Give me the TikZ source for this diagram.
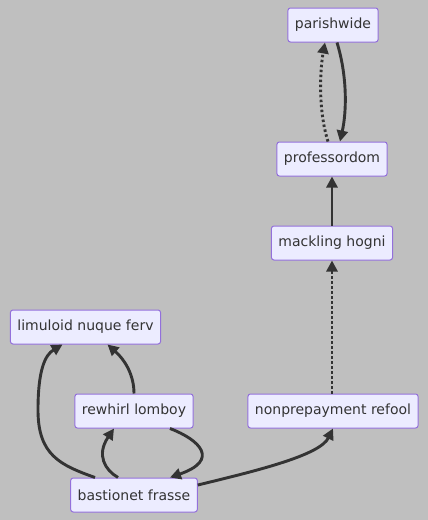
\documentclass[tikz,border=0pt]{standalone}
\usepackage{fontspec}
\setmainfont{DejaVu Sans}
\usepackage{tikz}
\usetikzlibrary{arrows.meta,calc}
\definecolor{Canvas}{RGB}{191, 191, 191}
\definecolor{BoxFill}{RGB}{236, 236, 255}
\definecolor{BoxLine}{RGB}{147, 112, 219}
\definecolor{Ink}{RGB}{51, 51, 51}

\begin{document}
\begin{tikzpicture}[x=1pt,y=-1pt,
    box/.style = {draw = BoxLine, fill = BoxFill, rounded corners = 2.5pt,
        line width = 1pt, text = Ink, minimum height = 34pt,
        inner xsep = 7pt, font = \fontsize{14}{16}\selectfont},
    link/.style = {draw = Ink, line width = 2.9pt, -{Triangle[length=11pt,width=11pt]}},
    dots/.style = {link, dash pattern = on 2.5pt off 2.5pt}]
    % Canvas
    \fill[Canvas] (0,0) rectangle (428,520);
    \useasboundingbox (0,0) rectangle (428,520);
    % Boxes
    \node[box] (parish) at (333,25) {parishwide};
    \node[box] (prof) at (332,159) {professordom};
    \node[box] (mack) at (332,243) {mackling hogni};
    \node[box] (limu) at (85.5,327) {limuloid nuque ferv};
    \node[box] (rewhirl) at (134,411) {rewhirl lomboy};
    \node[box] (nonpre) at (333,411) {nonprepayment refool};
    \node[box] (bast) at (134,495) {bastionet frasse};
    % Right column
    \draw[dots] (nonpre.north -| mack) -- (mack.south);
    \draw[link] (mack) -- (prof);
    \draw[dots] ($(prof.north)+(-4,0)$) .. controls (318,110) and (320,70) .. ($(parish.south)+(-8,0)$);
    \draw[link] ($(parish.south)+(4,0)$) .. controls (347,75) and (347,110) .. ($(prof.north)+(8,0)$);
    % Left cluster
    \draw[link] ($(bast.north)+(-39,0)$) .. controls (60,465) and (38,455) .. (38,410)
        .. controls (38,370) and (45,355) .. ($(limu.south)+(-23,0)$);
    \draw[link] (rewhirl.north) .. controls (134,375) and (125,360) .. ($(limu.south)+(22,0)$);
    \draw[link] ($(bast.north)+(-16,0)$) .. controls (105,470) and (96,455) .. ($(rewhirl.south)+(-20,0)$);
    \draw[link] ($(rewhirl.south)+(36,0)$) .. controls (200,440) and (220,460) .. ($(bast.north)+(36,0)$);
    \draw[link] ($(bast.east)+(0,-10)$) .. controls (260,470) and (320,455) .. (nonpre.south);
\end{tikzpicture}
\end{document}
